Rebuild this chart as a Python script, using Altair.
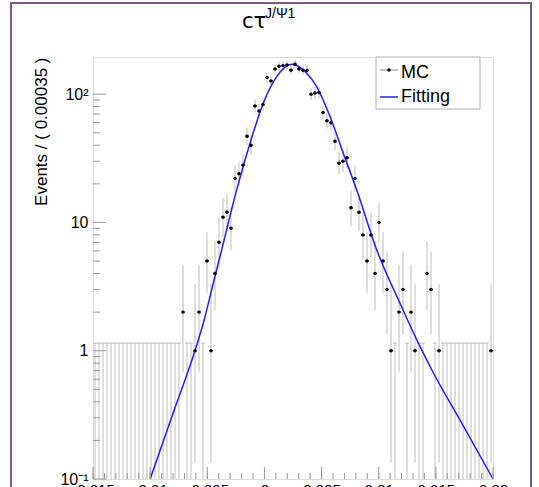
import math
import altair as alt
import pandas as pd

# ---------------- data ----------------
X_DOMAIN = [-0.015, 0.02]
Y_DOMAIN = [0.1, 195]
BIN_WIDTH = 0.00035
ZERO_UP = 1.147  # upper error drawn for empty bins

counts = (
    [0] * 22
    + [2, 0, 0, 1, 2, 0, 5, 1, 4, 7,
       11, 12, 9, 22, 24, 28, 47, 40, 81, 74,
       83, 135, 127, 157, 165, 167, 169, 154, 171, 157,
       154, 153, 100, 102, 103, 72, 62, 60, 43, 29,
       30, 32, 13, 22, 12, 8, 5, 8, 4, 10,
       5, 3, 1, 0, 2, 3, 0, 2, 1, 0,
       0, 4, 3, 0, 1]
    + [0] * 12
    + [1]
)
assert len(counts) == 100

fit_x = [-0.0100, -0.00804, -0.00608, -0.00535, -0.00433, -0.00374, -0.00243,
         -0.00126, -0.00010, 0.00107, 0.00239, 0.00370, 0.00457, 0.00574,
         0.00690, 0.00807, 0.00982, 0.01186, 0.01361, 0.01464, 0.01729, 0.02000]
fit_y = [0.100, 0.317, 1.00, 1.64, 3.79, 6.12, 17.96,
         41.5, 85.1, 137.1, 171.3, 145.8, 114.6, 66.9,
         34.7, 17.96, 6.12, 2.35, 1.08, 0.711, 0.270, 0.100]

x_tick_values = [-0.015, -0.01, -0.005, 0, 0.005, 0.01, 0.015, 0.02]
x_minor_values = [round(-0.015 + 0.001 * k, 4) for k in range(36)]
y_tick_values = [0.1, 1, 10, 100]
y_minor_values = [m * 10 ** d for d in range(-1, 3) for m in range(2, 10) if m * 10 ** d < Y_DOMAIN[1]]

legend_labels = ["MC", "Fitting"]
title_main = "cτ"
title_sup = "J/Ψ1"
y_title = "Events / ( 0.00035 )"

FONT = "Liberation Sans"

# ---------------- tables ----------------
rows = []
for i, n in enumerate(counts):
    xl = X_DOMAIN[0] + BIN_WIDTH * i
    rows.append(dict(
        xc=xl + BIN_WIDTH / 2, xl=xl, xr=xl + BIN_WIDTH, n=n,
        lo=max(n - math.sqrt(n - 0.25), Y_DOMAIN[0]) if n > 0 else Y_DOMAIN[0],
        hi=(n + 1 + math.sqrt(n + 0.75)) if n > 0 else ZERO_UP,
    ))
df = pd.DataFrame(rows)
nz = df[df.n > 0]
zb = df[df.n == 0]
fit = pd.DataFrame({"x": fit_x, "y": fit_y})

xs = alt.Scale(domain=X_DOMAIN, nice=False, zero=False)
ys = alt.Scale(type="log", domain=Y_DOMAIN, nice=False)

XAX = alt.Axis(
    values=x_tick_values, labelExpr="toString(datum.value)", title=None,
    ticks=False, domain=False, grid=False, labelFont=FONT, labelFontSize=15,
    labelColor="black", labelPadding=3, labelFlush=False)
YAX = alt.Axis(
    values=y_tick_values,
    labelExpr="datum.value >= 99 ? '10²' : datum.value >= 9 ? '10' : datum.value >= 0.9 ? '1' : '10⁻¹'",
    title=y_title, ticks=False, domain=False, grid=False,
    labelFont=FONT, labelFontSize=16, labelColor="black", labelPadding=5,
    titleFont=FONT, titleFontSize=17, titleFontWeight="normal", titleColor="black",
    titleAnchor="end", titleAngle=270, titleX=-47, titleBaseline="alphabetic")


def X(field):
    return alt.X(field, scale=xs, axis=XAX, title=None)


def Y(field):
    return alt.Y(field, scale=ys, axis=YAX, title=y_title)


GREY_BAR = "#bdbdbd"
TICK = "#9a9a9a"

# empty bins
zero_v = alt.Chart(zb).mark_rule(color=GREY_BAR, strokeWidth=1).encode(
    x=X("xc:Q"), y=Y("lo:Q"), y2="hi:Q")
zero_h = alt.Chart(zb).mark_rule(color=GREY_BAR, strokeWidth=1).encode(
    x=X("xl:Q"), x2="xr:Q", y=Y("hi:Q"))

# filled bins
err_v = alt.Chart(nz).mark_rule(color=GREY_BAR, strokeWidth=1).encode(
    x=X("xc:Q"), y=Y("lo:Q"), y2="hi:Q")
err_h = alt.Chart(nz).mark_rule(color="#444444", strokeWidth=1).encode(
    x=X("xl:Q"), x2="xr:Q", y=Y("n:Q"))
pts = alt.Chart(nz).mark_point(filled=True, color="black", size=12, opacity=1).encode(
    x=X("xc:Q"), y=Y("n:Q"))

curve = alt.Chart(fit).mark_line(color="#2020ff", strokeWidth=1.5, interpolate="monotone").encode(
    x=X("x:Q"), y=Y("y:Q"))

# inside ticks
ytm = alt.Chart(pd.DataFrame({"v": y_tick_values})).mark_rule(color=TICK).encode(
    y=Y("v:Q"), x=alt.value(0), x2=alt.value(13))
ytn = alt.Chart(pd.DataFrame({"v": y_minor_values})).mark_rule(color=TICK).encode(
    y=Y("v:Q"), x=alt.value(0), x2=alt.value(7))
xtm = alt.Chart(pd.DataFrame({"v": x_tick_values})).mark_rule(color=TICK).encode(
    x=X("v:Q"), y=alt.value(422), y2=alt.value(410))
xtn = alt.Chart(pd.DataFrame({"v": x_minor_values})).mark_rule(color=TICK).encode(
    x=X("v:Q"), y=alt.value(422), y2=alt.value(416))

# legend
one = pd.DataFrame({"k": [0]})
leg_box = alt.Chart(one).mark_rect(fill="white", stroke="#b0b0b0", strokeWidth=1).encode(
    x=alt.value(283), x2=alt.value(387), y=alt.value(0), y2=alt.value(52))
leg_mc_line = alt.Chart(one).mark_rule(color="#888888").encode(
    x=alt.value(287), x2=alt.value(305), y=alt.value(13))
leg_mc_dot = alt.Chart(one).mark_point(filled=True, color="black", size=12, opacity=1).encode(
    x=alt.value(296), y=alt.value(13))
leg_fit_line = alt.Chart(one).mark_rule(color="#2020ff", strokeWidth=1.5).encode(
    x=alt.value(287), x2=alt.value(305), y=alt.value(40))
leg_mc_txt = alt.Chart(pd.DataFrame({"t": [legend_labels[0]]})).mark_text(
    align="left", baseline="alphabetic", font=FONT, fontSize=18, color="black").encode(
    x=alt.value(308), y=alt.value(21), text="t:N")
leg_fit_txt = alt.Chart(pd.DataFrame({"t": [legend_labels[1]]})).mark_text(
    align="left", baseline="alphabetic", font=FONT, fontSize=18, color="black").encode(
    x=alt.value(308), y=alt.value(45), text="t:N")

# title
t_main = alt.Chart(pd.DataFrame({"t": [title_main]})).mark_text(
    align="left", baseline="alphabetic", font="DejaVu Sans", fontSize=21, color="black").encode(
    x=alt.value(149), y=alt.value(-29), text="t:N")
t_sup = alt.Chart(pd.DataFrame({"t": [title_sup]})).mark_text(
    align="left", baseline="alphabetic", font=FONT, fontSize=14, color="black").encode(
    x=alt.value(172), y=alt.value(-39), text="t:N")

# canvas border
border = alt.Chart(one).mark_rect(fill=None, stroke="#7d5a80", strokeWidth=2).encode(
    x=alt.value(-82), x2=alt.value(438), y=alt.value(-54), y2=alt.value(445))

chart = alt.layer(
    border, zero_v, zero_h, err_v, err_h, curve, pts,
    ytm, ytn, xtm, xtn,
    leg_box, leg_mc_line, leg_mc_dot, leg_fit_line, leg_mc_txt, leg_fit_txt,
    t_main, t_sup,
).properties(
    width=400, height=422,
    autosize=alt.AutoSizeParams(type="none"),
    padding={"left": 93, "top": 57, "right": 46, "bottom": 8},
).configure_view(stroke="#aaaaaa", strokeWidth=1).configure(background="white")

chart.save("out.html", embed_options={"renderer": "svg", "actions": False})
